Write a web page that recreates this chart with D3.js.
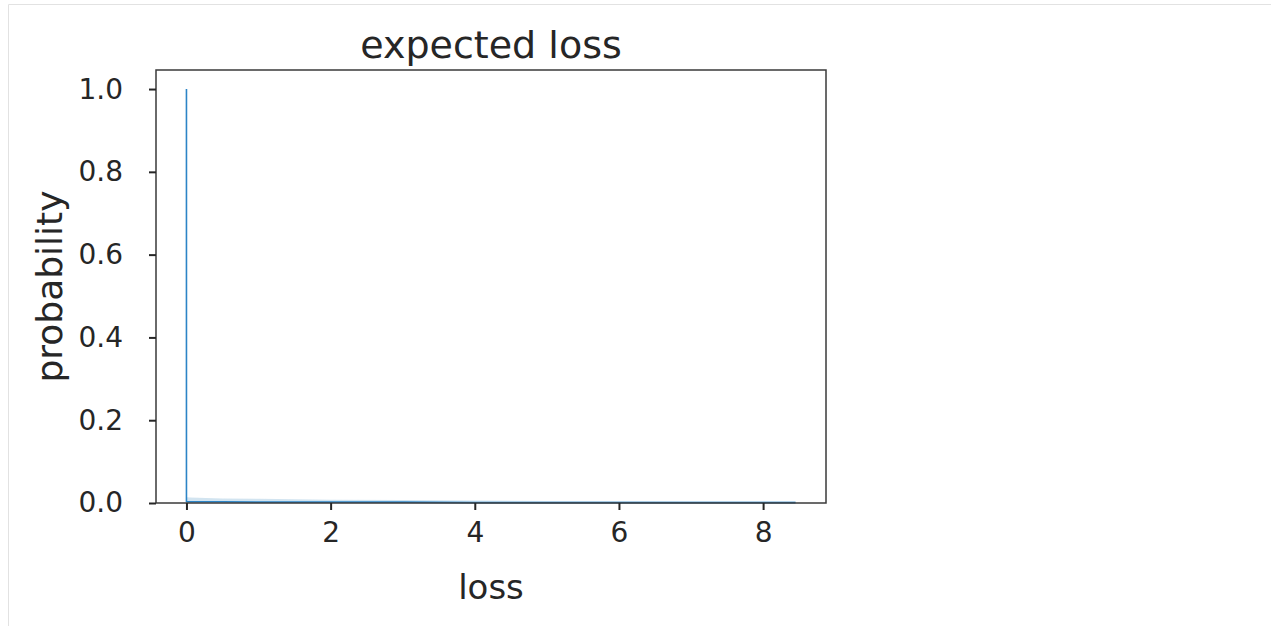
<!DOCTYPE html>
<html>
<head>
<meta charset="utf-8">
<script src="https://cdn.jsdelivr.net/npm/d3@7"></script>
<style>
  html, body { margin: 0; padding: 0; background: #fff; }
  svg { display: block; }
  text { font-family: "DejaVu Sans", sans-serif; fill: #262626; }
</style>
</head>
<body>
<svg id="chart" width="1271" height="626"></svg>
<script>
// Loss distribution: a point mass at zero plus a thin tail out to ~8.45,
// with a confidence band around the mean curve
const lossValues = [0, 0, 0.05, 0.5, 1, 1.5, 2, 3, 4, 5, 6, 7, 8, 8.45];
const meanProb   = [1.0, 0.003, 0.003, 0.003, 0.002, 0.002, 0.002, 0.002, 0.001, 0.001, 0.001, 0.001, 0.001, 0.001];
const ciLower    = [1.0, 0.0, 0.0, 0.0, 0.0, 0.0, 0.0, 0.0, 0.0, 0.0, 0.0, 0.0, 0.0, 0.0];
const ciUpper    = [1.0, 0.014, 0.013, 0.011, 0.010, 0.009, 0.008, 0.007, 0.006, 0.005, 0.005, 0.004, 0.004, 0.004];
const xTicks = [0, 2, 4, 6, 8];
const yTicks = [0.0, 0.2, 0.4, 0.6, 0.8, 1.0];
const titleText = "expected loss";
const xLabel = "loss";
const yLabel = "probability";

const svg = d3.select("#chart");
const W = 1271, H = 626;

// page frame
svg.append("line").attr("x1", 8.5).attr("x2", W).attr("y1", 4.5).attr("y2", 4.5)
  .attr("stroke", "#e2e2e2").attr("stroke-width", 1);
svg.append("line").attr("x1", 8.5).attr("x2", 8.5).attr("y1", 4.5).attr("y2", H)
  .attr("stroke", "#e2e2e2").attr("stroke-width", 1);

const plot = { left: 156, right: 826, top: 70, bottom: 503 };

// 5% padding on x like the default autoscale margins
const xMin = d3.min(lossValues), xMax = d3.max(lossValues);
const pad = (xMax - xMin) * 0.05;
const x = d3.scaleLinear().domain([xMin - pad, xMax + pad]).range([plot.left, plot.right]);
const y = d3.scaleLinear().domain([0, 1.046]).range([plot.bottom, plot.top]);

const rows = lossValues.map((v, i) => ({ loss: v, mean: meanProb[i], lo: ciLower[i], hi: ciUpper[i] }));

// confidence band
svg.append("path")
  .datum(rows)
  .attr("d", d3.area().x(d => x(d.loss)).y0(d => y(d.lo)).y1(d => y(d.hi)))
  .attr("fill", "#1f77b4").attr("fill-opacity", 0.2);

// mean curve
svg.append("path")
  .datum(rows)
  .attr("d", d3.line().x(d => x(d.loss)).y(d => y(d.mean)))
  .attr("fill", "none").attr("stroke", "#2c84c6").attr("stroke-width", 1.6)
  .attr("stroke-linejoin", "round");

// frame around the axes
svg.append("rect")
  .attr("x", plot.left).attr("y", plot.top)
  .attr("width", plot.right - plot.left).attr("height", plot.bottom - plot.top)
  .attr("fill", "none").attr("stroke", "#3a3a3a").attr("stroke-width", 1.5);

// x axis
const xAxis = svg.append("g").attr("transform", `translate(0,${plot.bottom})`)
  .call(d3.axisBottom(x).tickValues(xTicks).tickFormat(d3.format("d")).tickSize(7).tickPadding(12));
// y axis
const yAxis = svg.append("g").attr("transform", `translate(${plot.left},0)`)
  .call(d3.axisLeft(y).tickValues(yTicks).tickFormat(d3.format(".1f")).tickSize(7).tickPadding(26));

[xAxis, yAxis].forEach(g => {
  g.select(".domain").remove();
  g.selectAll(".tick line").attr("stroke", "#262626").attr("stroke-width", 2);
  g.selectAll(".tick text").attr("font-size", 28).attr("fill", "#262626")
    .attr("font-family", "DejaVu Sans, sans-serif");
});

// title and axis labels
svg.append("text").attr("x", (plot.left + plot.right) / 2).attr("y", 58)
  .attr("text-anchor", "middle").attr("font-size", 38).text(titleText);
svg.append("text").attr("x", (plot.left + plot.right) / 2).attr("y", 599)
  .attr("text-anchor", "middle").attr("font-size", 34).text(xLabel);
svg.append("text")
  .attr("transform", `translate(62,${(plot.top + plot.bottom) / 2}) rotate(-90)`)
  .attr("text-anchor", "middle").attr("font-size", 36).text(yLabel);
</script>
</body>
</html>
